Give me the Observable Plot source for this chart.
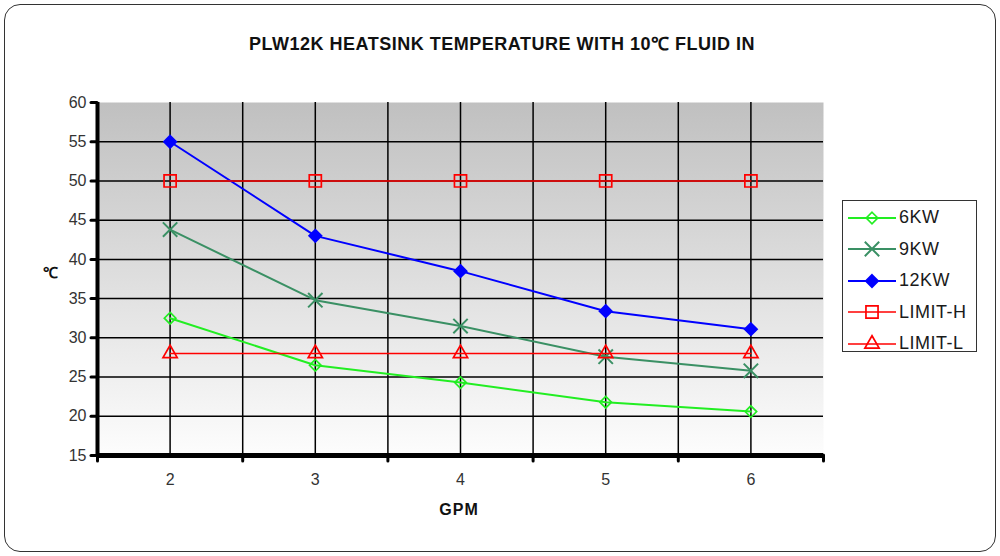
<!DOCTYPE html>
<html><head><meta charset="utf-8">
<script src="https://cdn.jsdelivr.net/npm/d3@7"></script>
<script src="https://cdn.jsdelivr.net/npm/@observablehq/plot@0.6"></script>
<style>
body{margin:0;background:#fff;font-family:"Liberation Sans",Arial,sans-serif}
#wrap{position:relative;width:1000px;height:556px;overflow:hidden}
#border{position:absolute;left:4px;top:4px;width:992px;height:548px;border:1.8px solid #333;border-radius:16px;box-sizing:border-box}
#title{position:absolute;top:31px;left:0;width:1004px;text-align:center;font-weight:bold;font-size:18px;letter-spacing:0.5px;color:#111}
#plot{position:absolute;left:0;top:0}
#ylab{position:absolute;left:43px;top:262px;font-weight:bold;font-size:15px;color:#111}
#xlab{position:absolute;left:0;width:918px;top:501px;text-align:center;font-weight:bold;font-size:16px;letter-spacing:1px;color:#111}
#legend{position:absolute;left:842px;top:200px;width:135px;height:152px;border:1.5px solid #333;box-sizing:border-box;background:#fff;padding-top:1px}
.row{display:flex;align-items:center;height:31.5px}
.row svg{margin-left:5px;margin-right:3px}
.row span{font-size:18px;letter-spacing:0.5px;color:#1a1a1a}
</style></head>
<body>
<div id="wrap">
  <div id="border"></div>
  <div id="title"></div>
  <div id="plot"></div>
  <div id="ylab"></div>
  <div id="xlab"></div>
  <div id="legend"></div>
</div>
<script>
// ---- data ----
const titleText = "PLW12K HEATSINK TEMPERATURE WITH 10℃ FLUID IN";
const xLabel = "GPM";
const yLabel = "℃";
const gpm = [2, 3, 4, 5, 6];
const kw6 = [32.5, 26.5, 24.3, 21.8, 20.6];
const kw9 = [43.8, 34.8, 31.5, 27.6, 25.8];
const kw12 = [55, 43, 38.5, 33.4, 31.1];
const limitH = [50, 50, 50, 50, 50];
const limitL = [28, 28, 28, 28, 28];
const seriesNames = ["6KW", "9KW", "12KW", "LIMIT-H", "LIMIT-L"];
const yTicks = [15, 20, 25, 30, 35, 40, 45, 50, 55, 60];
const xTicks = [2, 3, 4, 5, 6];
const xBounds = [1.5, 2.5, 3.5, 4.5, 5.5, 6.5];
const xDomain = [1.5, 6.5];
const yDomain = [15, 60];

// ---- styles ----
const styles = {
  "6KW":     {color: "#22ee22", symbol: "diamond2", fill: "none",    r: 5.2, sw: 2},
  "9KW":     {color: "#3a9064", symbol: "times",    fill: "none",    r: 6.6, sw: 2},
  "12KW":    {color: "#0000ff", symbol: "diamond2", fill: "#0000ff", r: 5.6, sw: 2},
  "LIMIT-H": {color: "#ff0000", symbol: "square2",  fill: "none",    r: 7.7, sw: 1.5},
  "LIMIT-L": {color: "#ff0000", symbol: "triangle2",fill: "none",    r: 6.8, sw: 1.5}
};
const valueArrays = [kw6, kw9, kw12, limitH, limitL];
const rows = [];
seriesNames.forEach((name, i) => gpm.forEach((g, j) => rows.push({series: name, gpm: g, temp: valueArrays[i][j]})));

document.getElementById("title").textContent = titleText;
document.getElementById("xlab").textContent = xLabel;
document.getElementById("ylab").textContent = yLabel;

const lineMarks = [];
for (const name of seriesNames) {
  const s = styles[name];
  const data = rows.filter(d => d.series === name);
  lineMarks.push(Plot.line(data, {x: "gpm", y: "temp", stroke: s.color, strokeWidth: s.sw}));
  lineMarks.push(Plot.dot(data, {x: "gpm", y: "temp", symbol: () => s.symbol, r: s.r, stroke: s.color, fill: s.fill, strokeWidth: name === "9KW" ? 2 : 1.7}));
}

const gridXVals = xTicks.concat(xBounds.slice(1, -1));
const chart = Plot.plot({
  width: 1000, height: 556,
  marginLeft: 97, marginRight: 177, marginTop: 102, marginBottom: 101,
  style: {fontFamily: "Liberation Sans, Arial, sans-serif", fontSize: "16px", background: "transparent", color: "#333"},
  x: {domain: xDomain},
  y: {domain: yDomain},
  symbol: {type: "identity"},
  marks: [
    Plot.frame({fill: "url(#bggrad)", stroke: null}),
    Plot.gridY(yTicks.slice(1, -1), {stroke: "#000", strokeOpacity: 1, strokeWidth: 1.5}),
    Plot.gridX(gridXVals, {stroke: "#000", strokeOpacity: 1, strokeWidth: 1.5}),
    ...lineMarks,
    Plot.ruleX([xDomain[0]], {stroke: "#000", strokeWidth: 4}),
    Plot.ruleY([yDomain[0]], {stroke: "#000", strokeWidth: 5}),
    Plot.axisY(yTicks, {tickSize: 6, tickPadding: 5, stroke: "#000", strokeWidth: 3, strokeLinecap: "round", fill: "#333", fontSize: 16, label: null, tickFormat: d => String(d)}),
    Plot.axisX(xBounds, {tickSize: 6, text: null, stroke: "#000", strokeWidth: 3, strokeLinecap: "round", label: null}),
    Plot.axisX(xTicks, {tickSize: 0, tickPadding: 18, fill: "#333", fontSize: 16, label: null, tickFormat: d => String(d)})
  ]
});
const svg = d3.select(chart);
const defs = svg.insert("defs", ":first-child");
const grad = defs.append("linearGradient").attr("id", "bggrad").attr("x1", 0).attr("x2", 0).attr("y1", 0).attr("y2", 1);
grad.append("stop").attr("offset", "0%").attr("stop-color", "#c0c0c0");
grad.append("stop").attr("offset", "100%").attr("stop-color", "#fdfdfd");
document.getElementById("plot").appendChild(chart);

// ---- legend ----
const legend = d3.select("#legend");
for (const name of seriesNames) {
  const s = styles[name];
  const row = legend.append("div").attr("class", "row");
  const sv = row.append("svg").attr("width", 48).attr("height", 20);
  sv.append("line").attr("x1", 0).attr("x2", 48).attr("y1", 10).attr("y2", 10).attr("stroke", s.color).attr("stroke-width", s.sw);
  const symMap = {diamond2: d3.symbolDiamond2, times: d3.symbolTimes, square2: d3.symbolSquare2, triangle2: d3.symbolTriangle2};
  sv.append("path").attr("transform", "translate(24,10)")
    .attr("d", d3.symbol(symMap[s.symbol], Math.PI * s.r * s.r)())
    .attr("fill", s.fill).attr("stroke", s.color).attr("stroke-width", name === "9KW" ? 2 : 1.7);
  row.append("span").text(name);
}
</script>
</body></html>
